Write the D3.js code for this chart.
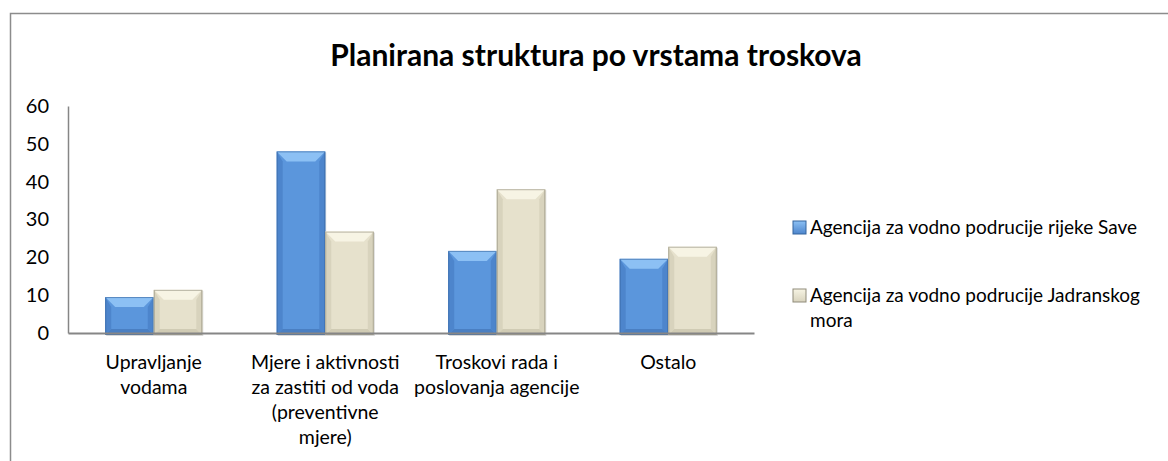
<!DOCTYPE html>
<html>
<head>
<meta charset="utf-8">
<script src="https://cdn.jsdelivr.net/npm/d3@7"></script>
<style>
  body { margin: 0; background: #fff; }
  svg { display: block; font-family: Lato, "Open Sans", sans-serif; }
</style>
</head>
<body>
<div id="chart"></div>
<script>
// Chart data
const categories = [
  "Upravljanje vodama",
  "Mjere i aktivnosti za zastiti od voda (preventivne mjere)",
  "Troskovi rada i poslovanja agencije",
  "Ostalo"
];
const categoryLines = [
  ["Upravljanje", "vodama"],
  ["Mjere i aktivnosti", "za zastiti od voda", "(preventivne", "mjere)"],
  ["Troskovi rada i", "poslovanja agencije"],
  ["Ostalo"]
];
const seriesNames = [
  "Agencija za vodno podrucije rijeke Save",
  "Agencija za vodno podrucije Jadranskog mora"
];
const saveValues = [9.5, 48, 21.7, 19.6];
const jadranValues = [11.4, 26.8, 38, 22.8];
const yTicks = [0, 10, 20, 30, 40, 50, 60];

const W = 1168, H = 461;
const margin = { top: 106, left: 68, right: 414, bottom: 128 };
const width = W - margin.left - margin.right;
const height = H - margin.top - margin.bottom;

const svg = d3.select("#chart").append("svg")
  .attr("width", W)
  .attr("height", H);

// Outer frame (only left and top visible in window)
svg.append("rect")
  .attr("x", 10.5).attr("y", 13.5)
  .attr("width", 1200).attr("height", 500)
  .attr("fill", "none")
  .attr("stroke", "#8c8c8c")
  .attr("stroke-width", 1.5);

// Title
svg.append("text")
  .attr("x", 596).attr("y", 66)
  .attr("text-anchor", "middle")
  .style("font-size", "30px")
  .style("font-weight", "bold")
  .style("fill", "#000")
  .text("Planirana struktura po vrstama troskova");

const g = svg.append("g")
  .attr("transform", `translate(${margin.left},${margin.top})`);

const x0 = d3.scaleBand()
  .domain(categories)
  .range([0, width])
  .paddingInner(0.434)
  .paddingOuter(0.217);

const x1 = d3.scaleBand()
  .domain([0, 1])
  .range([0, x0.bandwidth()]);

const y = d3.scaleLinear()
  .domain([0, 60])
  .range([height, 0]);

// Bevel palettes
const palettes = [
  { face: "#5b96dc", top: "#8cc0f4", side: "#4d85cc", bottom: "#4a7fc2", edge: "#35649e" },
  { face: "#e6e1cc", top: "#f7f4e4", side: "#d8d3bd", bottom: "#d0cbb4", edge: "#8f8b7a" }
];

const rows = categories.map((c, i) => ({ cat: c, vals: [saveValues[i], jadranValues[i]] }));

// Y axis
const yAxis = g.append("g")
  .call(d3.axisLeft(y).tickValues(yTicks).tickSize(0).tickPadding(19));
yAxis.select(".domain").attr("stroke", "#868686").attr("stroke-width", 1.5);
yAxis.selectAll("text")
  .style("font-family", "Lato, 'Open Sans', sans-serif")
  .style("font-size", "20px")
  .style("fill", "#000");

// Bars
const groups = g.selectAll(".grp")
  .data(rows)
  .enter().append("g")
  .attr("class", "grp")
  .attr("transform", d => `translate(${x0(d.cat)},0)`);

groups.each(function(d) {
  const grp = d3.select(this);
  d.vals.forEach((v, k) => {
    const p = palettes[k];
    const bx = x1(k), bw = x1.bandwidth();
    const by = y(v), bh = y(0) - y(v) + 2;
    const b = Math.min(10, bw / 3, bh / 3);
    const bar = grp.append("g");
    // shadow
    bar.append("rect")
      .attr("x", bx + 1).attr("y", by + 1)
      .attr("width", bw).attr("height", bh)
      .attr("fill", "rgba(0,0,0,0.15)");
    bar.append("rect")
      .attr("x", bx).attr("y", by)
      .attr("width", bw).attr("height", bh)
      .attr("fill", p.face);
    const X0 = bx, X1 = bx + bw, Y0 = by, Y1 = by + bh;
    const poly = (pts, fill) => bar.append("polygon")
      .attr("points", pts.map(q => q.join(",")).join(" "))
      .attr("fill", fill);
    poly([[X0, Y0], [X1, Y0], [X1 - b, Y0 + b], [X0 + b, Y0 + b]], p.top);
    poly([[X0, Y0], [X0 + b * 0.6, Y0 + b], [X0 + b * 0.6, Y1 - b * 0.6], [X0, Y1]], p.side);
    poly([[X1, Y0], [X1 - b * 0.6, Y0 + b], [X1 - b * 0.6, Y1 - b * 0.6], [X1, Y1]], p.side);
    poly([[X0, Y1], [X0 + b * 0.6, Y1 - b * 0.6], [X1 - b * 0.6, Y1 - b * 0.6], [X1, Y1]], p.bottom);
    bar.append("rect")
      .attr("x", bx + 0.5).attr("y", by + 0.5)
      .attr("width", bw - 1).attr("height", bh - 1)
      .attr("fill", "none")
      .attr("stroke", p.edge)
      .attr("stroke-opacity", 0.6);
  });
});

// X axis
const xAxis = g.append("g")
  .attr("transform", `translate(0,${height})`)
  .call(d3.axisBottom(x0).tickSize(0).tickFormat(""));
xAxis.select(".domain").attr("stroke", "#868686").attr("stroke-width", 2);

xAxis.selectAll(".tick").each(function(d, i) {
  const t = d3.select(this).append("text")
    .attr("text-anchor", "middle")
    .style("font-family", "Lato, 'Open Sans', sans-serif")
    .style("font-size", "19.5px")
    .style("fill", "#000");
  categoryLines[i].forEach((line, j) => {
    t.append("tspan")
      .attr("x", 0)
      .attr("y", 36 + j * 25)
      .text(line);
  });
});

// Legend
const legend = svg.append("g").attr("transform", "translate(793,221)");
const legendLines = [[seriesNames[0]], ["Agencija za vodno podrucije Jadranskog", "mora"]];
legendLines.forEach((lines, k) => {
  const item = legend.append("g").attr("transform", `translate(0,${k * 68})`);
  const grad = svg.append("defs").append("linearGradient")
    .attr("id", "lg" + k).attr("x1", 0).attr("y1", 0).attr("x2", 0).attr("y2", 1);
  grad.append("stop").attr("offset", 0).attr("stop-color", palettes[k].top);
  grad.append("stop").attr("offset", 1).attr("stop-color", palettes[k].side);
  item.append("rect")
    .attr("width", 13).attr("height", 13)
    .attr("fill", `url(#lg${k})`)
    .attr("stroke", palettes[k].edge)
    .attr("stroke-width", 1);
  const t = item.append("text")
    .style("font-size", "19px")
    .style("fill", "#000");
  lines.forEach((line, j) => {
    t.append("tspan").attr("x", 17).attr("y", 13 + j * 25).text(line);
  });
});
</script>
</body>
</html>
